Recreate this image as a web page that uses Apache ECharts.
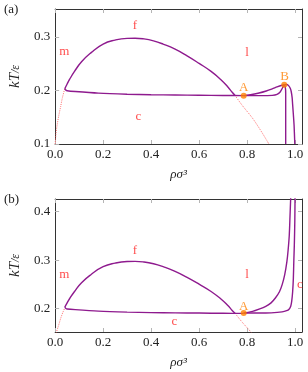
<!DOCTYPE html>
<html><head><meta charset="utf-8">
<script src="https://cdn.jsdelivr.net/npm/echarts@6/dist/echarts.min.js"></script>
<style>html,body{margin:0;padding:0;background:#fff}#c{width:308px;height:372px}</style>
</head><body><div id="c"></div>
<script>
// ---- data ----
const xTicks = [0, 0.2, 0.4, 0.6, 0.8, 1.0];
const yTicksA = [0.1, 0.2, 0.3];
const yTicksB = [0.2, 0.3, 0.4];

// fluid-liquid dome (both panels)
const dome = [[0.040,0.203],[0.050,0.212],[0.060,0.2205],[0.080,0.235],[0.110,0.2535],[0.150,0.2705],[0.200,0.2865],[0.250,0.294],[0.300,0.2972],[0.333,0.2975],[0.370,0.2962],[0.410,0.2925],[0.450,0.2865],[0.500,0.277],[0.550,0.2645],[0.600,0.2505],[0.650,0.2355],[0.690,0.2205],[0.720,0.2065],[0.738,0.1965],[0.750,0.1905]];
// lower boundary from the cusp to A
const lowerToA = [[0.040,0.203],[0.045,0.2005],[0.050,0.1995],[0.084,0.198],[0.180,0.195],[0.300,0.193],[0.400,0.192],[0.500,0.1915],[0.600,0.191],[0.700,0.1905],[0.786,0.1903]];
// panel (a): lower branch A -> B
const lowerAB = [[0.786,0.1903],[0.850,0.1903],[0.905,0.1907],[0.925,0.1925],[0.938,0.197],[0.948,0.2050],[0.955,0.2105]];
// panel (a): upper branch A -> B
const upperAB = [[0.786,0.1903],[0.820,0.1925],[0.850,0.1952],[0.880,0.1990],[0.905,0.2030],[0.925,0.2065],[0.942,0.2092],[0.955,0.2105]];
// panel (a): from B, steep drop and right branch
const dropB = [[0.955,0.2105],[0.959,0.207],[0.961,0.195],[0.961,0.150],[0.961,0.100]];
const rightB = [[0.955,0.2105],[0.965,0.2112],[0.973,0.209],[0.980,0.204],[0.984,0.198],[0.988,0.186],[0.990,0.1735],[0.993,0.155],[0.996,0.135],[0.999,0.100]];
// dotted continuation lines
const dotLeftA = [[0.000,0.100],[0.003,0.117],[0.008,0.135],[0.016,0.155],[0.023,0.170],[0.030,0.186],[0.040,0.203]];
const dotLeftB = [[0.004,0.150],[0.014,0.165],[0.023,0.180],[0.031,0.191],[0.040,0.2014]];
const dotRight = [[0.750,0.1905],[0.780,0.172],[0.823,0.148],[0.860,0.123],[0.891,0.100]];
// panel (b): branches from A rising to the top
const lowerB = [[0.786,0.191],[0.850,0.191],[0.900,0.1915],[0.946,0.1934],[0.965,0.196],[0.975,0.199],[0.982,0.205],[0.986,0.215],[0.990,0.235],[0.993,0.263],[0.995,0.300],[0.997,0.331],[0.999,0.380],[1.000,0.430]];
const upperB = [[0.786,0.191],[0.823,0.1945],[0.850,0.199],[0.878,0.2048],[0.900,0.212],[0.918,0.222],[0.935,0.235],[0.946,0.249],[0.957,0.270],[0.966,0.297],[0.971,0.320],[0.976,0.352],[0.979,0.390],[0.982,0.430]];
// points
const ptsA = [[0.786,0.1903],[0.955,0.2105]];
const ptsB = [[0.786,0.191]];
// region/point labels
const labA = [[0.333,0.3205,'f'],[0.038,0.272,'m'],[0.347,0.151,'c'],[0.800,0.270,'l']];
const labAo = [[0.786,0.2045,'A'],[0.956,0.2255,'B']];
const labB = [[0.333,0.3197,'f'],[0.038,0.271,'m'],[0.800,0.270,'l'],[0.497,0.173,'c'],[1.020,0.250,'c']];
const labBo = [[0.786,0.2047,'A']];

// ---- styling ----
const SERIF = '"Liberation Serif","DejaVu Serif",serif';
const PURPLE = '#8e1a8e';
const RED = '#ff2020';
const ORANGE = '#ff8000';
const AXIS = '#333';
const TICK = '#b5b5b5';

function xAx(grid, pos, labels){
  return {type:'value', gridIndex:grid, position:pos, min:0, max:1.029,
    axisLine:{show:true, onZero:false, lineStyle:{color:AXIS, width:1}},
    axisTick:{show:true, inside:true, length:4, customValues:xTicks, lineStyle:{color:TICK}},
    axisLabel:{show:labels, customValues:xTicks, margin:4, color:'#222', fontFamily:SERIF, fontSize:13, formatter:v=>v.toFixed(1)},
    splitLine:{show:false},
    name: labels ? 'ρσ³' : '', nameLocation:'middle', nameGap:24,
    nameTextStyle:{fontFamily:SERIF, fontStyle:'italic', fontSize:13, color:'#222'}};
}
function yAx(grid, pos, labels, mn, mx, ticks){
  return {type:'value', gridIndex:grid, position:pos, min:mn, max:mx,
    axisLine:{show:true, onZero:false, lineStyle:{color:AXIS, width:1}},
    axisTick:{show:true, inside:true, length:4, customValues:ticks, lineStyle:{color:TICK}},
    axisLabel:{show:labels, customValues:ticks, margin:5, color:'#222', fontFamily:SERIF, fontSize:13, formatter:v=>v.toFixed(1)},
    splitLine:{show:false},
    name: labels ? '{i|kT}{s|/ε}' : '', nameLocation:'middle', nameGap:31, nameRotate:90,
    nameTextStyle:{color:'#222', rich:{i:{fontFamily:SERIF, fontStyle:'italic', fontSize:15, color:'#222'}, s:{fontFamily:SERIF, fontStyle:'italic', fontSize:12, color:'#222'}}}};
}
function line(data, xi, yi, opt){
  return Object.assign({type:'line', data:data, xAxisIndex:xi, yAxisIndex:yi, showSymbol:false, symbol:'none', smooth:0.25, clip:true,
    lineStyle:{color:PURPLE, width:1.4}, silent:true, animation:false, z:3}, opt||{});
}
function dotted(data, xi, yi){
  return line(data, xi, yi, {smooth:0.3, lineStyle:{color:'#ff5a5a', width:0.9, type:[1,1.2]}, z:2});
}
function pts(data, xi, yi){
  return {type:'scatter', data:data, xAxisIndex:xi, yAxisIndex:yi, symbol:'circle', symbolSize:6,
    itemStyle:{color:ORANGE}, silent:true, animation:false, z:5};
}
function labels(data, xi, yi, color){
  return {type:'scatter', data:data.map(d=>({value:[d[0],d[1]], name:d[2]})), xAxisIndex:xi, yAxisIndex:yi,
    symbolSize:0, silent:true, animation:false, z:6, clip:false,
    label:{show:true, position:'inside', formatter:p=>p.name, color:color, fontFamily:SERIF, fontSize:13}};
}

const chart = echarts.init(document.getElementById('c'), null, {renderer:'canvas'});
chart.setOption({
  animation:false,
  backgroundColor:'#fff',
  grid:[{left:50, right:6, top:9, height:135}, {left:50, right:6, top:199, height:133}],
  xAxis:[xAx(0,'bottom',true), xAx(0,'top',false), xAx(1,'bottom',true), xAx(1,'top',false)],
  yAxis:[yAx(0,'left',true,0.1,0.352,yTicksA), yAx(0,'right',false,0.1,0.352,yTicksA),
         yAx(1,'left',true,0.152,0.426,yTicksB), yAx(1,'right',false,0.152,0.426,yTicksB)],
  graphic:[
    {type:'text', left:4, top:3, style:{text:'(a)', font:'13px '+SERIF, fill:'#222'}},
    {type:'text', left:4, top:193, style:{text:'(b)', font:'13px '+SERIF, fill:'#222'}}
  ],
  series:[
    dotted(dotLeftA,0,0), dotted(dotRight,0,0),
    line(dome,0,0,{smooth:0.5}), line(lowerToA,0,0), line(lowerAB,0,0), line(upperAB,0,0), line(dropB,0,0,{smooth:0.1}), line(rightB,0,0),
    pts(ptsA,0,0), labels(labA,0,0,RED), labels(labAo,0,0,ORANGE),
    dotted(dotLeftB,2,2), dotted(dotRight,2,2),
    line(dome,2,2,{smooth:0.5}), line(lowerToA,2,2), line(lowerB,2,2), line(upperB,2,2),
    pts(ptsB,2,2), labels(labB,2,2,RED), labels(labBo,2,2,ORANGE)
  ]
});
</script></body></html>
